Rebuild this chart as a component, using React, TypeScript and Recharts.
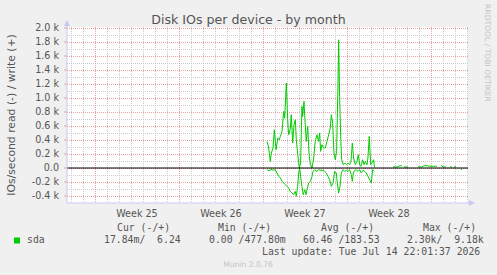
import { LineChart, Line, XAxis, YAxis, ReferenceLine } from "recharts";

// x = days since the left edge of the graph
const writeDays = [
  16.67, 16.81, 16.94, 17.03, 17.17, 17.28, 17.42, 17.58, 17.69, 17.78, 17.92, 18.06, 18.14, 18.28,
  18.39, 18.47, 18.61, 18.69, 18.81, 18.92, 19.03, 19.11, 19.22, 19.31, 19.36, 19.47, 19.58, 19.64,
  19.75, 19.83, 19.94, 20.06, 20.17, 20.28, 20.42, 20.56, 20.69, 20.83, 20.97, 21.06, 21.14, 21.25,
  21.39, 21.53, 21.67, 21.81, 21.94, 22.03, 22.14, 22.25, 22.36, 22.47, 22.58, 22.64, 22.72, 22.81,
  22.89, 23.03, 23.14, 23.28, 23.42, 23.56, 23.67, 23.78, 23.89, 24.03, 24.17, 24.28, 24.39, 24.5,
  24.64, 24.75, 24.86, 25.0, 25.08, 25.19, 25.31, 25.42, 25.56, 25.62, 26.0,
  27.17, 27.33, 27.5, 27.58, 27.75, 27.92, 28.0, 28.08, 28.25, 28.42, 28.8, 29.25, 29.42, 29.58,
  29.75, 29.92, 30.08, 30.25, 30.5, 30.83, 31.0, 31.17, 31.33, 31.58, 31.75, 31.92, 32.08, 32.17,
  32.25, 32.42, 32.6,
];
const writeIOs = [
  380, 286, 95, 214, 286, 547, 261, 429, 404, 452, 523, 809, 714, 1214,
  690, 476, 560, 762, 357, 619, 690, 404, 214, 71, 0, 71, 880, 737,
  952, 690, 380, 595, 214, 47, 0, 143, 380, 476, 380, 500, 238, 333,
  286, 286, 380, 476, 571, 762, 643, 214, 119, 238, 1143, 1833, 1024, 452,
  119, 47, 72, 47, 71, 47, 95, 357, 143, 47, 95, 190, 47, 24,
  119, 47, 95, 47, 143, 452, 47, 71, 119, 10, null,
  15, 15, 15, 20, 33, 30, null, 15, 15, 15, null, 15, 15, 15,
  33, 33, 30, 25, 25, 25, null, 40, 15, 15, null, 15, 15, null,
  15, 15, null,
];

const readDays = [
  16.67, 16.83, 17.0, 17.17, 17.36, 17.5, 17.64, 17.78, 17.92, 18.06, 18.19, 18.33, 18.47, 18.61,
  18.75, 18.89, 19.03, 19.11, 19.22, 19.31, 19.39, 19.47, 19.58, 19.69, 19.81, 19.92, 20.03, 20.14,
  20.28, 20.42, 20.5, 20.64, 20.83, 20.97, 21.08, 21.33, 21.47, 21.61, 21.75, 21.89, 22.03, 22.17,
  22.31, 22.44, 22.53, 22.64, 22.75, 22.86, 23.0, 23.14, 23.28, 23.42, 23.56, 23.69, 23.78, 23.86,
  23.97, 24.11, 24.25, 24.39, 24.53, 24.67, 24.81, 24.94, 25.08, 25.22, 25.36, 25.47, 25.61, 26.0,
  32.83, 32.92,
];
const readIOs = [
  24, 40, 20, 30, 24, 71, 119, 143, 190, 214, 238, 262, 286, 334,
  357, 381, 334, 405, 262, 71, 0, 119, 262, 381, 310, 381, 286, 214,
  190, 119, 48, 24, 48, 24, 30, 33, 48, 71, 119, 167, 262, 214,
  48, 71, 214, 357, 262, 71, 24, 48, 33, 48, 24, 95, 190, 71,
  33, 24, 48, 24, 71, 33, 48, 71, 119, 167, 214, 24, 48, null,
  20, 25,
];

const weekCenters = [5.83, 12.83, 19.83, 26.83];
const weekLabels = ["Week 25", "Week 26", "Week 27", "Week 28"];
const weekLines = [2.333, 9.333, 16.333, 23.333, 30.333];
const yTicks = [-400, -200, 0, 200, 400, 600, 800, 1000, 1200, 1400, 1600, 1800, 2000];

const legendHeaders = ["Cur (-/+)", "Min (-/+)", "Avg (-/+)", "Max (-/+)"];
const legendValues = ["17.84m/  6.24", "0.00 /477.80m", "60.46 /183.53", "2.30k/  9.18k"];

const writeData = writeDays.map((d, i) => ({ day: d, v: writeIOs[i] }));
const readData = readDays.map((d, i) => ({ day: d, v: readIOs[i] == null ? null : -readIOs[i] }));

const X_DOMAIN = [0, 33.42];
const Y_DOMAIN = [-500, 2015];
// plot box, same as the chart margins + axis sizes below
const PL = 67, PT = 27, PW = 401, PH = 176;

// grid: one line a day, one every 100 IOs; weeks and every 200 in red
const gridDays: number[] = [];
for (let k = 0; k < 34; k++) gridDays.push(Math.round((k + 0.333) * 1000) / 1000);
const gridY: number[] = [];
for (let v = -400; v <= 2000; v += 100) gridY.push(v);
const gx = (d: number) => Math.round(PL + ((d - X_DOMAIN[0]) / (X_DOMAIN[1] - X_DOMAIN[0])) * PW) + 0.5;
const gy = (v: number) => Math.round(PT + ((Y_DOMAIN[1] - v) / (Y_DOMAIN[1] - Y_DOMAIN[0])) * PH) + 0.5;

const GREEN = "#00cc00";
const TXT = "#555555";
const FONT = "DejaVu Sans, sans-serif";
const MONO = "DejaVu Sans Mono, monospace";
const MINOR = "#c8c8c8";
const MAJOR = "#e8a0a0";
const AXIS = "#c8c8f8";

const fmtY = (v: number) => (v === 0 ? "0.0" : `${(v / 1000).toFixed(1)} k`);

const WeekTick = (props: any) => {
  const { x, y, index } = props;
  return (
    <text x={x} y={y + 13.5} textAnchor="middle" fontFamily={FONT} fontSize={9.6} fill={TXT}>
      {weekLabels[index]}
    </text>
  );
};

export default function App() {
  const colStarts = [117, 218, 321, 423];
  const valStarts = [104, 209, 303, 407];
  return (
    <div style={{ position: "absolute", left: 0, top: 0, width: 497, height: 275, background: "#f0f0f0" }}>
      <svg width={497} height={275} style={{ position: "absolute", left: 0, top: 0 }}>
        <rect x={PL} y={PT} width={PW} height={PH} fill="#ffffff" />
        {gridY.map((v) => (
          <line
            key={`gy${v}`}
            x1={PL}
            x2={PL + PW}
            y1={gy(v)}
            y2={gy(v)}
            stroke={v % 200 === 0 ? MAJOR : MINOR}
            strokeDasharray="1 1"
          />
        ))}
        {gridDays.map((d) => (
          <line
            key={`gx${d}`}
            x1={gx(d)}
            x2={gx(d)}
            y1={PT}
            y2={PT + PH}
            stroke={weekLines.includes(d) ? MAJOR : MINOR}
            strokeDasharray="1 1"
          />
        ))}
        <text x={248.5} y={23.5} textAnchor="middle" fontFamily={FONT} fontSize={12.6} fill={TXT}>
          Disk IOs per device - by month
        </text>
        <text
          x={15}
          y={115}
          transform="rotate(-90 15 115)"
          textAnchor="middle"
          fontFamily={FONT}
          fontSize={10.8}
          fill={TXT}
        >
          IOs/second read (-) / write (+)
        </text>
        <text
          x={485}
          y={53}
          transform="rotate(90 485 53)"
          textAnchor="middle"
          fontFamily={FONT}
          fontSize={7.6}
          fill="#c4c4c4"
        >
          RRDTOOL / TOBI OETIKER
        </text>
        <rect x={14} y={237.5} width={6} height={6} fill={GREEN} />
        <text x={27} y={242.5} fontFamily={MONO} fontSize={9.8} fill={TXT}>
          sda
        </text>
        {legendHeaders.map((h, i) => (
          <text key={h} x={colStarts[i]} y={230.5} fontFamily={MONO} fontSize={9.8} fill={TXT} style={{ whiteSpace: "pre" }}>
            {h}
          </text>
        ))}
        {legendValues.map((v, i) => (
          <text key={v} x={valStarts[i]} y={242.5} fontFamily={MONO} fontSize={9.8} fill={TXT} style={{ whiteSpace: "pre" }}>
            {v}
          </text>
        ))}
        <text x={262} y={255} fontFamily={MONO} fontSize={9.8} fill={TXT}>
          Last update: Tue Jul 14 22:01:37 2026
        </text>
        <text x={248} y={266.5} textAnchor="middle" fontFamily={FONT} fontSize={7.6} fill="#c4c4c4">
          Munin 2.0.76
        </text>
      </svg>
      <div style={{ position: "absolute", left: 0, top: 0 }}>
        <LineChart width={497} height={275} margin={{ top: PT, right: 497 - PL - PW, bottom: 0, left: 0 }}>
          <XAxis
            type="number"
            dataKey="day"
            domain={X_DOMAIN}
            ticks={weekCenters}
            tick={<WeekTick />}
            interval={0}
            tickSize={0}
            tickMargin={0}
            axisLine={false}
            tickLine={false}
            height={275 - PT - PH}
            allowDataOverflow
          />
          <YAxis
            type="number"
            domain={Y_DOMAIN}
            ticks={yTicks}
            interval={0}
            tickFormatter={fmtY}
            width={PL}
            tickSize={3}
            tickMargin={5}
            axisLine={false}
            tickLine={{ stroke: MAJOR }}
            tick={{ fontFamily: FONT, fontSize: 9.6, fill: TXT }}
            allowDataOverflow
          />
          <Line
            data={writeData}
            dataKey="v"
            type="linear"
            stroke={GREEN}
            strokeWidth={1}
            dot={false}
            connectNulls={false}
            isAnimationActive={false}
          />
          <Line
            data={readData}
            dataKey="v"
            type="linear"
            stroke={GREEN}
            strokeWidth={1}
            dot={false}
            connectNulls={false}
            isAnimationActive={false}
          />
          <ReferenceLine y={0} stroke="#000000" strokeWidth={1.2} />
        </LineChart>
      </div>
      <svg width={497} height={275} style={{ position: "absolute", left: 0, top: 0, pointerEvents: "none" }}>
        <line x1={67} y1={203} x2={67} y2={25} stroke={AXIS} />
        <polygon points="64,26 70,26 67,20" fill={AXIS} />
        <line x1={67} y1={203} x2={470} y2={203} stroke={AXIS} />
        <polygon points="469,200 469,206 475,203" fill={AXIS} />
      </svg>
    </div>
  );
}
